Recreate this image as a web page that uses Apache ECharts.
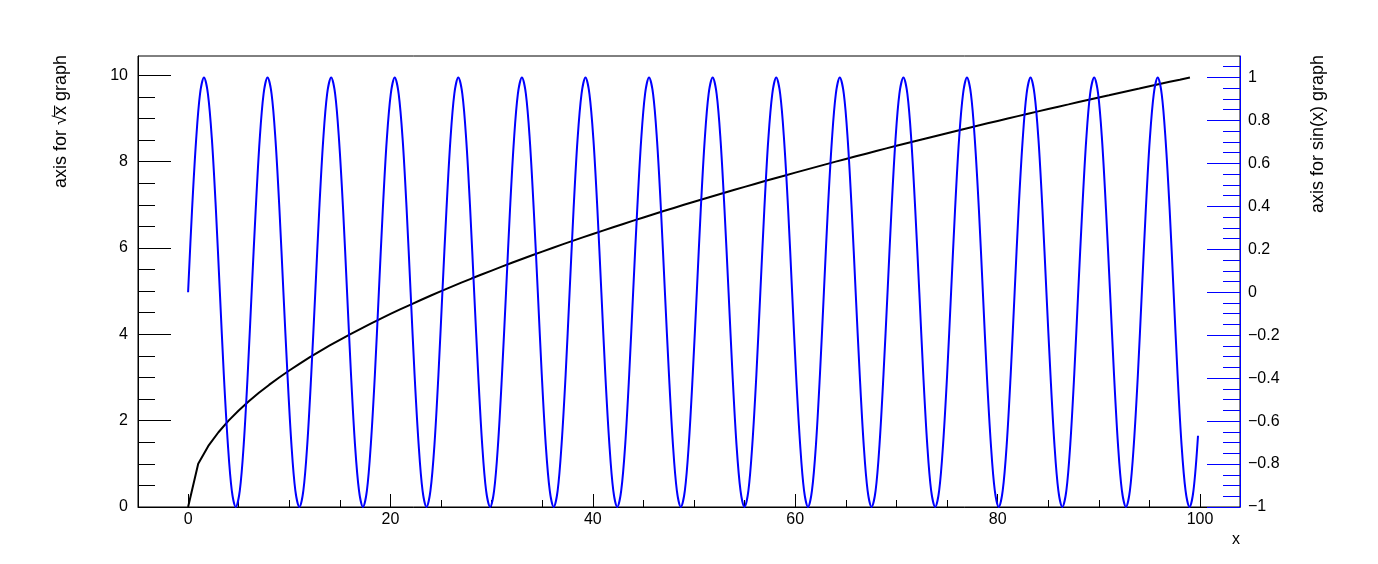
<!DOCTYPE html>
<html>
<head>
<meta charset="utf-8">
<script src="https://cdn.jsdelivr.net/npm/echarts@6/dist/echarts.min.js"></script>
<style>
html,body{margin:0;padding:0;background:#fff;}
#chart{width:1378px;height:564px;}
</style>
</head>
<body>
<div id="chart"></div>
<script>
// sqrt(x) graph, x = 0..99
const sqrtX = [0,1,2,3,4,5,6,7,8,9,10,11,12,13,14,15,16,17,18,19,20,21,22,23,24,25,26,27,28,29,30,31,32,33,34,35,36,37,38,39,40,41,42,43,44,45,46,47,48,49,50,51,52,53,54,55,56,57,58,59,60,61,62,63,64,65,66,67,68,69,70,71,72,73,74,75,76,77,78,79,80,81,82,83,84,85,86,87,88,89,90,91,92,93,94,95,96,97,98,99];
const sqrtY = [0,1,1.414,1.732,2,2.236,2.449,2.646,2.828,3,3.162,3.317,3.464,3.606,3.742,3.873,4,4.123,4.243,4.359,4.472,4.583,4.690,4.796,4.899,5,5.099,5.196,5.292,5.385,5.477,5.568,5.657,5.745,5.831,5.916,6,6.083,6.164,6.245,6.325,6.403,6.481,6.557,6.633,6.708,6.782,6.856,6.928,7,7.071,7.141,7.211,7.280,7.348,7.416,7.483,7.550,7.616,7.681,7.746,7.810,7.874,7.937,8,8.062,8.124,8.185,8.246,8.307,8.367,8.426,8.485,8.544,8.602,8.660,8.718,8.775,8.832,8.888,8.944,9,9.055,9.110,9.165,9.220,9.274,9.327,9.381,9.434,9.487,9.539,9.592,9.644,9.695,9.747,9.798,9.849,9.899,9.950];

// sin(x) graph: key points (crossings, eighths, extremes)
const sinX = [
0,0.39,0.79,1.18,1.57,1.96,2.36,2.75,3.14,3.53,3.93,4.32,4.71,5.11,5.50,5.89,
6.28,6.68,7.07,7.46,7.85,8.25,8.64,9.03,9.42,9.82,10.21,10.60,11.00,11.39,11.78,12.17,
12.57,12.96,13.35,13.74,14.14,14.53,14.92,15.32,15.71,16.10,16.49,16.89,17.28,17.67,18.06,18.46,
18.85,19.24,19.63,20.03,20.42,20.81,21.21,21.60,21.99,22.38,22.78,23.17,23.56,23.95,24.35,24.74,
25.13,25.53,25.92,26.31,26.70,27.10,27.49,27.88,28.27,28.67,29.06,29.45,29.85,30.24,30.63,31.02,
31.42,31.81,32.20,32.59,32.99,33.38,33.77,34.16,34.56,34.95,35.34,35.74,36.13,36.52,36.91,37.31,
37.70,38.09,38.48,38.88,39.27,39.66,40.06,40.45,40.84,41.23,41.63,42.02,42.41,42.80,43.20,43.59,
43.98,44.38,44.77,45.16,45.55,45.95,46.34,46.73,47.12,47.52,47.91,48.30,48.69,49.09,49.48,49.87,
50.27,50.66,51.05,51.44,51.84,52.23,52.62,53.01,53.41,53.80,54.19,54.59,54.98,55.37,55.76,56.16,
56.55,56.94,57.33,57.73,58.12,58.51,58.90,59.30,59.69,60.08,60.48,60.87,61.26,61.65,62.05,62.44,
62.83,63.22,63.62,64.01,64.40,64.80,65.19,65.58,65.97,66.37,66.76,67.15,67.54,67.94,68.33,68.72,
69.12,69.51,69.90,70.29,70.69,71.08,71.47,71.86,72.26,72.65,73.04,73.43,73.83,74.22,74.61,75.01,
75.40,75.79,76.18,76.58,76.97,77.36,77.75,78.15,78.54,78.93,79.33,79.72,80.11,80.50,80.90,81.29,
81.68,82.07,82.47,82.86,83.25,83.64,84.04,84.43,84.82,85.22,85.61,86.00,86.39,86.79,87.18,87.57,
87.96,88.36,88.75,89.14,89.54,89.93,90.32,90.71,91.11,91.50,91.89,92.28,92.68,93.07,93.46,93.86,
94.25,94.64,95.03,95.43,95.82,96.21,96.60,97.00,97.39,97.78,98.17,98.57,98.96,99.35,99.80
];
const sinY = [
0,0.383,0.707,0.924,1,0.924,0.707,0.383,0,-0.383,-0.707,-0.924,-1,-0.924,-0.707,-0.383,
0,0.383,0.707,0.924,1,0.924,0.707,0.383,0,-0.383,-0.707,-0.924,-1,-0.924,-0.707,-0.383,
0,0.383,0.707,0.924,1,0.924,0.707,0.383,0,-0.383,-0.707,-0.924,-1,-0.924,-0.707,-0.383,
0,0.383,0.707,0.924,1,0.924,0.707,0.383,0,-0.383,-0.707,-0.924,-1,-0.924,-0.707,-0.383,
0,0.383,0.707,0.924,1,0.924,0.707,0.383,0,-0.383,-0.707,-0.924,-1,-0.924,-0.707,-0.383,
0,0.383,0.707,0.924,1,0.924,0.707,0.383,0,-0.383,-0.707,-0.924,-1,-0.924,-0.707,-0.383,
0,0.383,0.707,0.924,1,0.924,0.707,0.383,0,-0.383,-0.707,-0.924,-1,-0.924,-0.707,-0.383,
0,0.383,0.707,0.924,1,0.924,0.707,0.383,0,-0.383,-0.707,-0.924,-1,-0.924,-0.707,-0.383,
0,0.383,0.707,0.924,1,0.924,0.707,0.383,0,-0.383,-0.707,-0.924,-1,-0.924,-0.707,-0.383,
0,0.383,0.707,0.924,1,0.924,0.707,0.383,0,-0.383,-0.707,-0.924,-1,-0.924,-0.707,-0.383,
0,0.383,0.707,0.924,1,0.924,0.707,0.383,0,-0.383,-0.707,-0.924,-1,-0.924,-0.707,-0.383,
0,0.383,0.707,0.924,1,0.924,0.707,0.383,0,-0.383,-0.707,-0.924,-1,-0.924,-0.707,-0.383,
0,0.383,0.707,0.924,1,0.924,0.707,0.383,0,-0.383,-0.707,-0.924,-1,-0.924,-0.707,-0.383,
0,0.383,0.707,0.924,1,0.924,0.707,0.383,0,-0.383,-0.707,-0.924,-1,-0.924,-0.707,-0.383,
0,0.383,0.707,0.924,1,0.924,0.707,0.383,0,-0.383,-0.707,-0.924,-1,-0.924,-0.707,-0.383,
0,0.383,0.707,0.924,1,0.924,0.707,0.383,0,-0.383,-0.707,-0.924,-1,-0.924,-0.668
];

// ticks
const xMajorTicks = [0,20,40,60,80,100];
const xMinorTicks = [5,10,15,25,30,35,45,50,55,65,70,75,85,90,95];
const leftMajorTicks = [0,2,4,6,8,10];
const leftMinorTicks = [0.5,1,1.5,2.5,3,3.5,4.5,5,5.5,6.5,7,7.5,8.5,9,9.5];
const rightMajorTicks = [-1,-0.8,-0.6,-0.4,-0.2,0,0.2,0.4,0.6,0.8,1];
const rightMinorTicks = [-0.95,-0.9,-0.85,-0.75,-0.7,-0.65,-0.55,-0.5,-0.45,-0.35,-0.3,-0.25,-0.15,-0.1,-0.05,0.05,0.1,0.15,0.25,0.3,0.35,0.45,0.5,0.55,0.65,0.7,0.75,0.85,0.9,0.95,1.05];

const titleLeft = 'axis for \u221Ax\u0305 graph';
const titleRight = 'axis for sin(x) graph';
const titleX = 'x';

const FONT = 'Liberation Sans, Arial, sans-serif';
const fmt = v => {
  const r = Math.round(v * 100) / 100;
  return String(r).replace('-', '\u2212');
};

function axisX(ticks, len, labels) {
  return {
    type: 'value', position: 'bottom', min: -4.95, max: 103.95,
    axisLine: { show: labels, onZero: false, lineStyle: { color: '#000', width: 1 } },
    axisTick: { show: true, inside: true, length: len, customValues: ticks, lineStyle: { color: '#000', width: 1 } },
    axisLabel: labels ? { show: true, customValues: ticks, margin: 5, color: '#000', fontSize: 16, fontFamily: FONT, formatter: fmt } : { show: false },
    splitLine: { show: false }
  };
}
function axisY(pos, min, max, ticks, len, labels, color, margin) {
  return {
    type: 'value', position: pos, offset: 0, min: min, max: max,
    axisLine: { show: labels, onZero: false, lineStyle: { color: color, width: 1 } },
    axisTick: { show: true, inside: true, length: len, customValues: ticks, lineStyle: { color: color, width: 1 } },
    axisLabel: labels ? { show: true, customValues: ticks, margin: margin, color: '#000', fontSize: 16, fontFamily: FONT, formatter: fmt } : { show: false },
    splitLine: { show: false }
  };
}

const chart = echarts.init(document.getElementById('chart'), null, { renderer: 'canvas' });
chart.setOption({
  animation: false,
  backgroundColor: '#fff',
  grid: { left: 138, right: 138, top: 56, bottom: 57, show: true, borderColor: '#000', borderWidth: 1, backgroundColor: 'transparent', containLabel: false, outerBoundsMode: 'none' },
  xAxis: [
    axisX(xMajorTicks, 13, true),
    axisX(xMinorTicks, 7, false)
  ],
  yAxis: [
    axisY('left', 0, 10.4475, leftMajorTicks, 33, true, '#000', 10),
    axisY('left', 0, 10.4475, leftMinorTicks, 17, false, '#000', 10),
    axisY('right', -1, 1.1, rightMajorTicks, 33, true, '#0000ff', 8),
    axisY('right', -1, 1.1, rightMinorTicks, 17, false, '#0000ff', 8)
  ],
  series: [
    {
      name: 'sqrt', type: 'line', xAxisIndex: 0, yAxisIndex: 0,
      data: sqrtX.map((x, i) => [x, sqrtY[i]]),
      showSymbol: false, symbol: 'none',
      lineStyle: { color: '#000', width: 2 }, z: 2
    },
    {
      name: 'sin', type: 'line', xAxisIndex: 0, yAxisIndex: 2,
      data: sinX.map((x, i) => [x, sinY[i]]),
      showSymbol: false, symbol: 'none', smooth: 0.33,
      lineStyle: { color: '#0000ff', width: 2 }, z: 3
    }
  ],
  graphic: [
    { type: 'text', x: 61, y: 55, rotation: Math.PI / 2, style: { text: titleLeft, align: 'right', verticalAlign: 'middle', fill: '#000', fontSize: 18, fontFamily: FONT } },
    { type: 'text', x: 1318, y: 55, rotation: Math.PI / 2, style: { text: titleRight, align: 'right', verticalAlign: 'middle', fill: '#000', fontSize: 18, fontFamily: FONT } },
    { type: 'text', x: 1240, y: 540, style: { text: titleX, align: 'right', verticalAlign: 'middle', fill: '#000', fontSize: 16, fontFamily: FONT } }
  ]
});
</script>
</body>
</html>
